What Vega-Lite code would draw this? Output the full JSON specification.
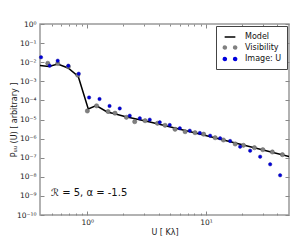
{
  "$schema": "https://vega.github.io/schema/vega-lite/v6.json",
  "width": 249,
  "height": 191,
  "autosize": "none",
  "padding": {"left": 40, "top": 24, "right": 5, "bottom": 25},
  "background": "white",
  "config": {
    "font": "DejaVu Sans",
    "view": {"stroke": "#999999", "strokeWidth": 1.5},
    "axis": {"grid": false, "domain": false, "tickColor": "#888888", "tickWidth": 1, "labelColor": "#222222", "titleColor": "#222222", "labelFont": "DejaVu Sans", "titleFont": "DejaVu Sans", "titleFontWeight": "normal"}
  },
  "datasets": {
    "pts": [
      {"series": "Model", "u": 0.4, "p": 0.0067},
      {"series": "Model", "u": 0.476, "p": 0.00596},
      {"series": "Model", "u": 0.564, "p": 0.00805},
      {"series": "Model", "u": 0.69, "p": 0.00497},
      {"series": "Model", "u": 0.84, "p": 0.00178},
      {"series": "Model", "u": 1.02, "p": 3.55e-5},
      {"series": "Model", "u": 1.19, "p": 5.4e-5},
      {"series": "Model", "u": 1.47, "p": 2.47e-5},
      {"series": "Model", "u": 1.7, "p": 2.01e-5},
      {"series": "Model", "u": 2.07, "p": 1.44e-5},
      {"series": "Model", "u": 3.37, "p": 7.4e-6},
      {"series": "Model", "u": 9.0, "p": 1.68e-6},
      {"series": "Model", "u": 23.6, "p": 3.72e-7},
      {"series": "Model", "u": 50, "p": 1.17e-7},
      {"series": "Visibility", "u": 0.465, "p": 0.00875},
      {"series": "Visibility", "u": 0.564, "p": 0.00855},
      {"series": "Visibility", "u": 0.693, "p": 0.0058},
      {"series": "Visibility", "u": 0.832, "p": 0.00209},
      {"series": "Visibility", "u": 1.002, "p": 2.79e-5},
      {"series": "Visibility", "u": 1.198, "p": 5.2e-5},
      {"series": "Visibility", "u": 1.497, "p": 2.62e-5},
      {"series": "Visibility", "u": 1.714, "p": 2.14e-5},
      {"series": "Visibility", "u": 2.135, "p": 1.3e-5},
      {"series": "Visibility", "u": 2.51, "p": 7.67e-6},
      {"series": "Visibility", "u": 3.07, "p": 8.65e-6},
      {"series": "Visibility", "u": 3.9, "p": 6.33e-6},
      {"series": "Visibility", "u": 4.52, "p": 4.97e-6},
      {"series": "Visibility", "u": 5.49, "p": 3.07e-6},
      {"series": "Visibility", "u": 6.67, "p": 2.3e-6},
      {"series": "Visibility", "u": 8.09, "p": 2.04e-6},
      {"series": "Visibility", "u": 9.55, "p": 1.7e-6},
      {"series": "Visibility", "u": 11.94, "p": 1.11e-6},
      {"series": "Visibility", "u": 14.02, "p": 8.45e-7},
      {"series": "Visibility", "u": 17.62, "p": 5.22e-7},
      {"series": "Visibility", "u": 20.66, "p": 4.46e-7},
      {"series": "Visibility", "u": 25.58, "p": 3.34e-7},
      {"series": "Visibility", "u": 30.1, "p": 2.62e-7},
      {"series": "Visibility", "u": 36.2, "p": 1.99e-7},
      {"series": "Visibility", "u": 44.0, "p": 1.44e-7},
      {"series": "Image: U", "u": 0.408, "p": 0.0181},
      {"series": "Image: U", "u": 0.483, "p": 0.00656},
      {"series": "Image: U", "u": 0.564, "p": 0.012},
      {"series": "Image: U", "u": 0.693, "p": 0.00656},
      {"series": "Image: U", "u": 0.848, "p": 0.0025},
      {"series": "Image: U", "u": 1.036, "p": 1.42e-4},
      {"series": "Image: U", "u": 1.269, "p": 1.18e-4},
      {"series": "Image: U", "u": 1.541, "p": 5.1e-5},
      {"series": "Image: U", "u": 1.878, "p": 3.81e-5},
      {"series": "Image: U", "u": 2.28, "p": 1.58e-5},
      {"series": "Image: U", "u": 2.77, "p": 1.16e-5},
      {"series": "Image: U", "u": 3.36, "p": 9.8e-6},
      {"series": "Image: U", "u": 4.08, "p": 7.1e-6},
      {"series": "Image: U", "u": 4.95, "p": 5.15e-6},
      {"series": "Image: U", "u": 6.02, "p": 3.46e-6},
      {"series": "Image: U", "u": 7.3, "p": 2.59e-6},
      {"series": "Image: U", "u": 8.87, "p": 1.96e-6},
      {"series": "Image: U", "u": 10.83, "p": 1.42e-6},
      {"series": "Image: U", "u": 13.15, "p": 1.04e-6},
      {"series": "Image: U", "u": 15.96, "p": 7.5e-7},
      {"series": "Image: U", "u": 19.38, "p": 3.77e-7},
      {"series": "Image: U", "u": 23.54, "p": 2.32e-7},
      {"series": "Image: U", "u": 28.58, "p": 1.13e-7},
      {"series": "Image: U", "u": 34.7, "p": 4.5e-8},
      {"series": "Image: U", "u": 42.1, "p": 1.2e-8}
    ],
    "note": [
      {"u": 0.495, "p": 1.47e-9, "label": "ℛ = 5, α = -1.5"}
    ]
  },
  "data": {"name": "pts"},
  "layer": [
    {
      "layer": [
        {
          "transform": [{"filter": "datum.series === 'Model'"}],
          "mark": {"type": "line", "strokeWidth": 1.5, "clip": true},
          "encoding": {
            "x": {
              "field": "u", "type": "quantitative",
              "scale": {"type": "log", "domain": [0.4, 50], "nice": false},
              "axis": {
                "orient": "bottom",
                "title": "U [ Kλ]",
                "titleFontSize": 8,
                "titlePadding": 1,
                "values": [0.5, 0.6, 0.7, 0.8, 0.9, 1, 2, 3, 4, 5, 6, 7, 8, 9, 10, 20, 30, 40],
                "labelExpr": "abs(log(datum.value)/LN10 - round(log(datum.value)/LN10)) < 1e-6 ? '10' + replace(replace(replace(replace('' + round(log(datum.value)/LN10), '-', '⁻'), '1', '¹'), '0', '⁰'), '2', '²') : ''",
                "labelOverlap": false,
                "labelFlush": false,
                "labelFontSize": 7.5,
                "labelPadding": 7,
                "tickSize": {"condition": {"test": "abs(log(datum.value)/LN10 - round(log(datum.value)/LN10)) < 1e-6", "value": -4}, "value": -2}
              }
            },
            "y": {
              "field": "p", "type": "quantitative",
              "scale": {"type": "log", "domain": [1e-10, 1], "nice": false},
              "axis": {
                "orient": "left",
                "title": "Pᵤᵤ (U) [ arbitrary ]",
                "titleFontSize": 8,
                "titlePadding": -2,
                "values": [1e-10, 1e-9, 1e-8, 1e-7, 1e-6, 1e-5, 1e-4, 1e-3, 1e-2, 1e-1, 1],
                "labelExpr": "'10' + replace(replace(replace(replace(replace(replace(replace(replace(replace(replace(replace('' + round(log(datum.value)/LN10), '-', '⁻'), '1', '¹'), '0', '⁰'), '2', '²'), '3', '³'), '4', '⁴'), '5', '⁵'), '6', '⁶'), '7', '⁷'), '8', '⁸'), '9', '⁹')",
                "labelOverlap": false,
                "labelFlush": false,
                "labelFontSize": 7.5,
                "labelPadding": 8,
                "tickSize": -4
              }
            },
            "color": {
              "field": "series", "type": "nominal",
              "scale": {"domain": ["Model", "Visibility", "Image: U"], "range": ["#000000", "#808080", "#0000dd"]},
              "legend": {
                "title": null,
                "orient": "top-right",
                "offset": 2,
                "padding": 5,
                "strokeColor": "#444444",
                "fillColor": "white",
                "labelFontSize": 8,
                "labelFont": "DejaVu Sans",
                "labelColor": "#111111",
                "symbolSize": 106,
                "labelOffset": 9,
                "rowPadding": 0.5,
                "symbolOffset": 3,
                "encode": {
                  "symbols": {
                    "update": {
                      "shape": {"signal": "datum.value === 'Model' ? 'M-1.04,0L1.04,0' : 'M-1.3,0a0.3,0.3 0 1,0 0.6,0a0.3,0.3 0 1,0 -0.6,0M0.7,0a0.3,0.3 0 1,0 0.6,0a0.3,0.3 0 1,0 -0.6,0'"},
                      "fill": {"signal": "datum.value === 'Model' ? 'transparent' : (datum.value === 'Visibility' ? '#808080' : '#0000dd')"},
                      "stroke": {"signal": "datum.value === 'Model' ? '#000000' : 'transparent'"},
                      "strokeWidth": {"value": 1.5},
                      "opacity": {"value": 1}
                    }
                  }
                }
              }
            }
          }
        },
        {
          "transform": [{"filter": "datum.series === 'Visibility'"}],
          "mark": {"type": "circle", "size": 18, "opacity": 1, "stroke": "#5a5a5a", "strokeWidth": 0.5},
          "encoding": {
            "x": {"field": "u", "type": "quantitative"},
            "y": {"field": "p", "type": "quantitative"},
            "color": {"field": "series", "type": "nominal"}
          }
        },
        {
          "transform": [{"filter": "datum.series === 'Image: U'"}],
          "mark": {"type": "circle", "size": 12, "opacity": 1, "stroke": "#00008a", "strokeWidth": 0.4},
          "encoding": {
            "x": {"field": "u", "type": "quantitative"},
            "y": {"field": "p", "type": "quantitative"},
            "color": {"field": "series", "type": "nominal"}
          }
        },
        {
          "data": {"name": "note"},
          "mark": {"type": "text", "align": "left", "baseline": "middle", "fontSize": 10, "font": "DejaVu Sans", "color": "#111111"},
          "encoding": {
            "x": {"field": "u", "type": "quantitative"},
            "y": {"field": "p", "type": "quantitative"},
            "text": {"field": "label"}
          }
        }
      ]
    },
    {
      "mark": {"type": "point", "opacity": 0},
      "encoding": {
        "x": {
          "field": "u", "type": "quantitative",
          "axis": {
            "orient": "top", "title": null, "labels": false,
            "values": [0.5, 0.6, 0.7, 0.8, 0.9, 1, 2, 3, 4, 5, 6, 7, 8, 9, 10, 20, 30, 40],
            "tickSize": {"condition": {"test": "abs(log(datum.value)/LN10 - round(log(datum.value)/LN10)) < 1e-6", "value": -4}, "value": -2}
          }
        },
        "y": {
          "field": "p", "type": "quantitative",
          "axis": {
            "orient": "right", "title": null, "labels": false,
            "values": [1e-10, 1e-9, 1e-8, 1e-7, 1e-6, 1e-5, 1e-4, 1e-3, 1e-2, 1e-1, 1],
            "tickSize": -4
          }
        }
      }
    }
  ],
  "resolve": {"axis": {"x": "independent", "y": "independent"}}
}
